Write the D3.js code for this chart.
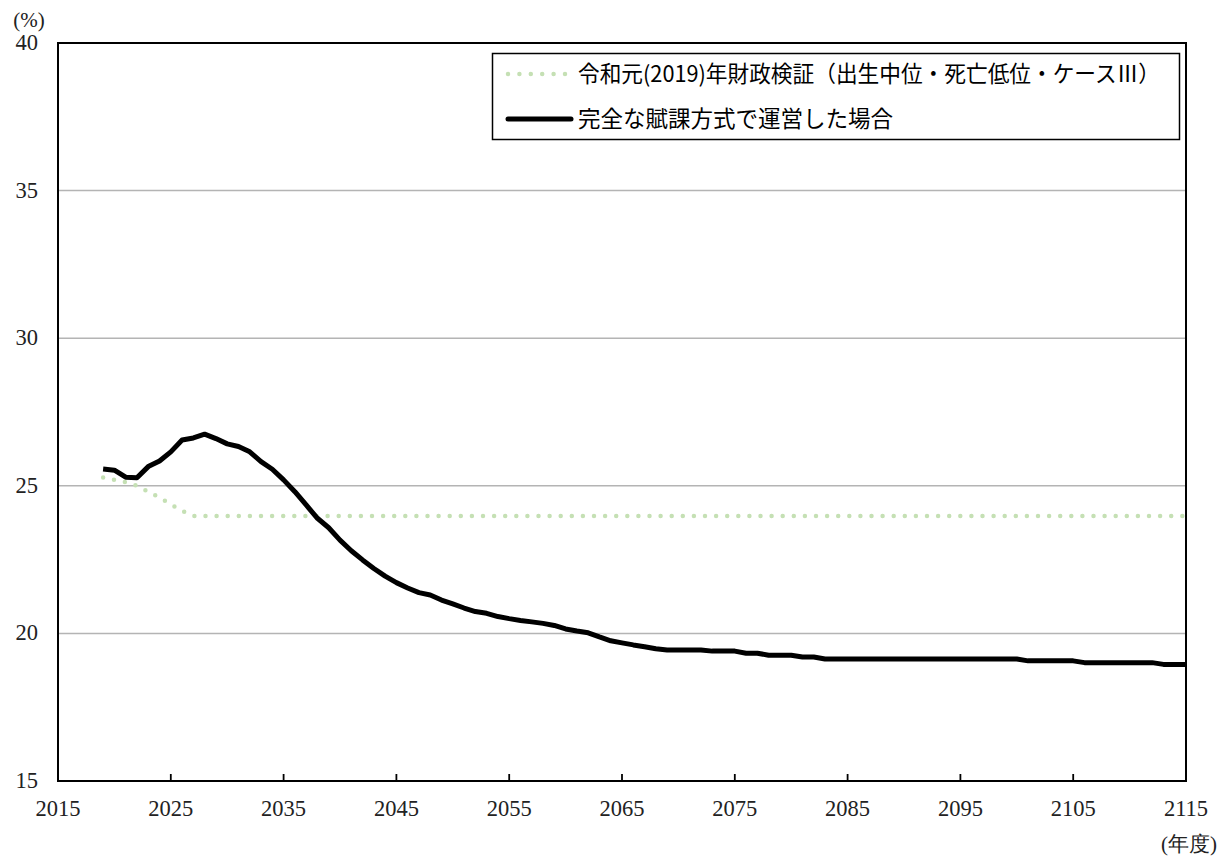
<!DOCTYPE html>
<html>
<head>
<meta charset="utf-8">
<script src="https://cdn.jsdelivr.net/npm/d3@7/dist/d3.min.js"></script>
<style>
  html, body { margin: 0; padding: 0; background: #fff; }
  svg { display: block; }
  .serif { font-family: "Liberation Serif", "DejaVu Serif", "Noto Serif", "Times New Roman", serif; }
  .sans { font-family: "Noto Sans CJK JP", "Noto Sans", sans-serif; }
</style>
</head>
<body>
<svg id="chart" width="1228" height="857"></svg>
<script>
// ---- data ----
const years = d3.range(2019, 2116);
const fullPayGo = [
  25.57, 25.53, 25.29, 25.27, 25.65, 25.84, 26.15, 26.55, 26.62, 26.75,
  26.60, 26.42, 26.33, 26.15, 25.82, 25.56, 25.20, 24.80, 24.35, 23.90,
  23.58, 23.16, 22.80, 22.49, 22.20, 21.94, 21.72, 21.54, 21.38, 21.30,
  21.13, 21.00, 20.86, 20.74, 20.68, 20.57, 20.50, 20.44, 20.39, 20.34,
  20.27, 20.15, 20.08, 20.02, 19.88, 19.75, 19.68, 19.61, 19.55, 19.48,
  19.44, 19.44, 19.44, 19.44, 19.40, 19.40, 19.40, 19.33, 19.33, 19.26,
  19.26, 19.26, 19.20, 19.20, 19.13, 19.13, 19.13, 19.13, 19.13, 19.13,
  19.13, 19.13, 19.13, 19.13, 19.13, 19.13, 19.13, 19.13, 19.13, 19.13,
  19.13, 19.13, 19.07, 19.07, 19.07, 19.07, 19.07, 19.01, 19.01, 19.01,
  19.01, 19.01, 19.01, 19.01, 18.95, 18.95, 18.95
];
const verification2019Head = [25.28, 25.20, 25.12, 25.00, 24.80, 24.60, 24.37, 24.15, 23.98];
const verification2019 = years.map((y, i) => i < verification2019Head.length ? verification2019Head[i] : 23.98);
const yTicks = [15, 20, 25, 30, 35, 40];
const xTicks = d3.range(2015, 2116, 10);
const seriesNames = ["令和元(2019)年財政検証（出生中位・死亡低位・ケースⅢ）", "完全な賦課方式で運営した場合"];

// ---- layout ----
const svg = d3.select("#chart");
const L = 58, T = 43, R = 1186, B = 781;
const x = d3.scaleLinear().domain([2015, 2115]).range([L, R]);
const y = d3.scaleLinear().domain([15, 40]).range([B, T]);

// gridlines
svg.append("g").selectAll("line").data(yTicks.filter(v => v > 15 && v < 40)).join("line")
  .attr("x1", L).attr("x2", R)
  .attr("y1", d => y(d)).attr("y2", d => y(d))
  .attr("stroke", "#b4b4b4").attr("stroke-width", 1.5);

// y labels
svg.append("g").selectAll("text").data(yTicks).join("text")
  .attr("class", "serif")
  .attr("x", 38).attr("y", d => y(d) + 7)
  .attr("text-anchor", "end")
  .style("font-size", "22.5px").attr("fill", "#222")
  .text(d => d);

// x axis ticks (inward)
svg.append("g").selectAll("line").data(xTicks.slice(1, -1)).join("line")
  .attr("x1", d => x(d)).attr("x2", d => x(d))
  .attr("y1", B).attr("y2", B - 7)
  .attr("stroke", "#000").attr("stroke-width", 1.8);

svg.append("g").selectAll("text").data(xTicks).join("text")
  .attr("class", "serif")
  .attr("x", d => x(d)).attr("y", 816)
  .attr("text-anchor", "middle")
  .style("font-size", "22.5px").attr("fill", "#222")
  .text(d => d);

// unit labels
svg.append("text").attr("class", "serif").attr("x", 29).attr("y", 27).attr("text-anchor", "middle")
  .style("font-size", "21px").attr("fill", "#222").text("(%)");
svg.append("text").attr("class", "serif").attr("x", 1189).attr("y", 851).attr("text-anchor", "middle")
  .style("font-size", "21px").attr("fill", "#222").text("(年度)");

// lines
const line = d3.line().x((d, i) => x(years[i])).y(d => y(d));
svg.append("path").datum(verification2019).attr("d", line)
  .attr("fill", "none").attr("stroke", "#c5e0b4").attr("stroke-width", 4.5)
  .attr("stroke-linecap", "round").attr("stroke-dasharray", "0 11.1");
svg.append("path").datum(fullPayGo).attr("d", line)
  .attr("fill", "none").attr("stroke", "#000").attr("stroke-width", 5)
  .attr("stroke-linejoin", "round");

// plot frame
svg.append("rect").attr("x", L).attr("y", T).attr("width", R - L).attr("height", B - T)
  .attr("fill", "none").attr("stroke", "#000").attr("stroke-width", 2);

// legend
const lg = svg.append("g");
lg.append("rect").attr("x", 492.5).attr("y", 53.5).attr("width", 687).attr("height", 86)
  .attr("fill", "#fff").attr("stroke", "#000").attr("stroke-width", 1.5);
lg.append("line").attr("x1", 508).attr("x2", 565).attr("y1", 74).attr("y2", 74)
  .attr("stroke", "#c5e0b4").attr("stroke-width", 4.5)
  .attr("stroke-linecap", "round").attr("stroke-dasharray", "0 11.4");
lg.append("line").attr("x1", 508).attr("x2", 571).attr("y1", 119).attr("y2", 119)
  .attr("stroke", "#000").attr("stroke-width", 5).attr("stroke-linecap", "round");
lg.append("text").attr("class", "sans").attr("x", 578).attr("y", 82)
  .style("font-size", "22.5px").attr("fill", "#000")
  .attr("textLength", 582).attr("lengthAdjust", "spacingAndGlyphs")
  .text(seriesNames[0]);
lg.append("text").attr("class", "sans").attr("x", 578).attr("y", 127)
  .style("font-size", "22.5px").attr("fill", "#000").text(seriesNames[1]);
</script>
</body>
</html>
